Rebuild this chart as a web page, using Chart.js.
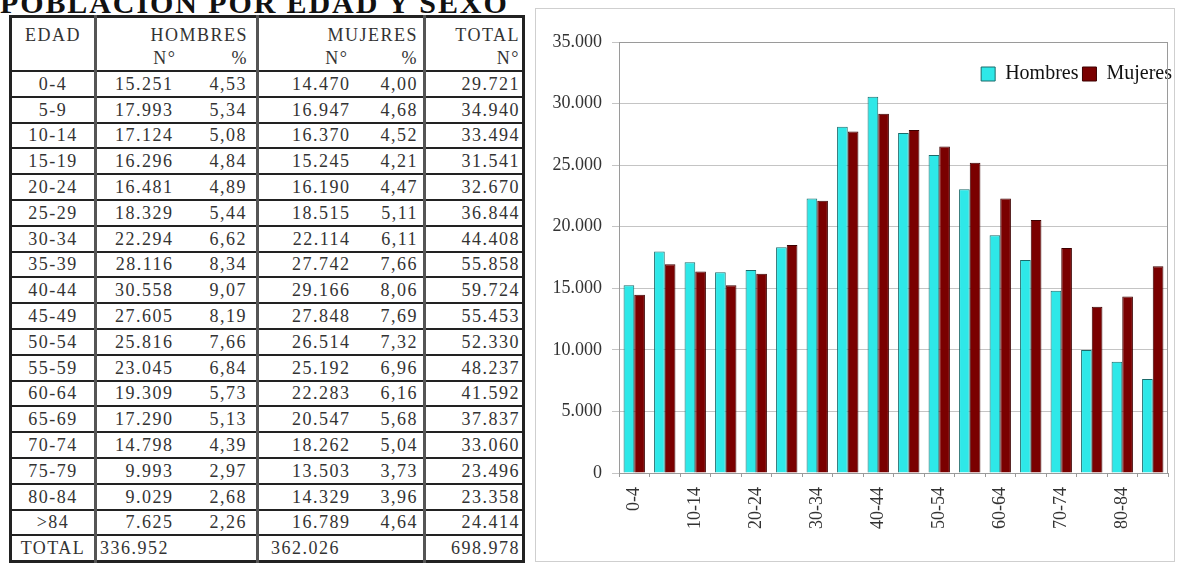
<!DOCTYPE html>
<html>
<head>
<meta charset="utf-8">
<script src="https://cdn.jsdelivr.net/npm/chart.js@4.4.0/dist/chart.umd.min.js"></script>
<style>
  body { margin: 0; width: 1178px; height: 564px; overflow: hidden; background: #fff; position: relative; }
  #titulo {
    position: absolute; left: 0; top: -12px; margin: 0;
    font: bold 30px "Liberation Serif", serif; letter-spacing: 1.9px; color: #111;
    line-height: 30px; white-space: nowrap;
  }
  #tabla {
    position: absolute; left: 9px; top: 15px; width: 513px;
    border-collapse: collapse; table-layout: fixed;
    font: 18px "Liberation Serif", serif; letter-spacing: 1.5px; color: #333;
    border: 3px solid #222;
  }
  #tabla td { padding: 0; height: 23.8px; line-height: 20px; white-space: nowrap; border-bottom: 2px solid #222; }
  #tabla tr.h1 td { border-bottom: none; height: 27px; vertical-align: bottom; }
  #tabla tr.h2 td { height: 25px; }
  #tabla .g { border-left: 3px solid #555; }
  #tabla .c { text-align: center; }
  #tabla .r { text-align: right; }
  #grafico {
    position: absolute; left: 535px; top: 8px; width: 638px; height: 552px;
    border: 1px solid #cfcfcf;
  }
</style>
</head>
<body>
<div id="titulo">POBLACION POR EDAD Y SEXO</div>
<table id="tabla">
  <colgroup>
    <col style="width:85px"><col style="width:95px"><col style="width:67px">
    <col style="width:105px"><col style="width:62px"><col style="width:99px">
  </colgroup>
  <tbody id="cuerpo">
    <tr class="h1">
      <td class="c">EDAD</td>
      <td class="g r" colspan="2" style="padding-right:8px">HOMBRES</td>
      <td class="g r" colspan="2" style="padding-right:5px">MUJERES</td>
      <td class="g r" style="padding-right:2px">TOTAL</td>
    </tr>
    <tr class="h2">
      <td></td>
      <td class="g r" style="padding-right:14px">N°</td>
      <td class="r" style="padding-right:8px">%</td>
      <td class="g r" style="padding-right:14px">N°</td>
      <td class="r" style="padding-right:5px">%</td>
      <td class="g r" style="padding-right:2px">N°</td>
    </tr>
  </tbody>
</table>
<div id="grafico"><canvas id="pob"></canvas></div>
<script>
// datos de la tabla
const edades = ["0-4","5-9","10-14","15-19","20-24","25-29","30-34","35-39","40-44","45-49","50-54","55-59","60-64","65-69","70-74","75-79","80-84",">84"];
const hombres = [15251,17993,17124,16296,16481,18329,22294,28116,30558,27605,25816,23045,19309,17290,14798,9993,9029,7625];
const pctHombres = ["4,53","5,34","5,08","4,84","4,89","5,44","6,62","8,34","9,07","8,19","7,66","6,84","5,73","5,13","4,39","2,97","2,68","2,26"];
const mujeres = [14470,16947,16370,15245,16190,18515,22114,27742,29166,27848,26514,25192,22283,20547,18262,13503,14329,16789];
const pctMujeres = ["4,00","4,68","4,52","4,21","4,47","5,11","6,11","7,66","8,06","7,69","7,32","6,96","6,16","5,68","5,04","3,73","3,96","4,64"];
const totales = [29721,34940,33494,31541,32670,36844,44408,55858,59724,55453,52330,48237,41592,37837,33060,23496,23358,24414];
const totalHombres = 336952;
const totalMujeres = 362026;
const totalGeneral = 698978;
const ticksY = [0,5000,10000,15000,20000,25000,30000,35000];

function miles(n) {
  return n.toString().replace(/\B(?=(\d{3})+(?!\d))/g, ".");
}

//Tabla//
const cuerpo = document.getElementById("cuerpo");
for (let i = 0; i < edades.length; i++) {
  const tr = document.createElement("tr");
  tr.innerHTML =
    '<td class="c">' + edades[i].replace(">", "&gt;") + '</td>' +
    '<td class="g r" style="padding-right:17px">' + miles(hombres[i]) + '</td>' +
    '<td class="r" style="padding-right:9px">' + pctHombres[i] + '</td>' +
    '<td class="g r" style="padding-right:12px">' + miles(mujeres[i]) + '</td>' +
    '<td class="r" style="padding-right:5px">' + pctMujeres[i] + '</td>' +
    '<td class="g r" style="padding-right:2px">' + miles(totales[i]) + '</td>';
  cuerpo.appendChild(tr);
}
const trTotal = document.createElement("tr");
trTotal.innerHTML =
  '<td class="c" style="border-bottom:none">TOTAL</td>' +
  '<td class="g" colspan="2" style="padding-left:3px;border-bottom:none">' + miles(totalHombres) + '</td>' +
  '<td class="g" colspan="2" style="padding-left:12px;border-bottom:none">' + miles(totalMujeres) + '</td>' +
  '<td class="g r" style="padding-right:2px;border-bottom:none">' + miles(totalGeneral) + '</td>';
cuerpo.appendChild(trTotal);
//Akhir Tabla//

//Grafico//
// leyenda dentro del area: no ocupa alto y se baja un poco
const leyendaDentro = {
  id: "leyendaDentro",
  beforeInit(chart) {
    const fitOrig = chart.legend.fit;
    chart.legend.fit = function () { fitOrig.call(this); this.height = 0; };
  },
  afterLayout(chart) {
    const l = chart.legend;
    l.top += 18;
    l.height = 40;
    l.bottom = l.top + 40;
    l.right += 8;
  }
};
const marco = {
  id: "marco",
  beforeDatasetsDraw(chart) {
    const a = chart.chartArea;
    const ctx = chart.ctx;
    ctx.save();
    ctx.strokeStyle = "#9a9a9a";
    ctx.lineWidth = 1;
    ctx.strokeRect(a.left + 0.5, a.top + 0.5, a.right - a.left - 1, a.bottom - a.top);
    ctx.restore();
  }
};

const data = {
  labels: edades,
  datasets: [
    {
      label: "Hombres",
      data: hombres,
      backgroundColor: "#2ee8e8",
      borderColor: "#1b6b6b",
      borderWidth: 1,
      categoryPercentage: 0.7,
      barPercentage: 1.0
    },
    {
      label: "Mujeres",
      data: mujeres,
      backgroundColor: "#7a0000",
      borderColor: "#3d0000",
      borderWidth: 1,
      categoryPercentage: 0.7,
      barPercentage: 1.0
    }
  ]
};

const config = {
  type: "bar",
  data: data,
  options: {
    responsive: true,
    maintainAspectRatio: false,
    animation: false,
    layout: { padding: { top: 33, right: 6, left: 0, bottom: 0 } },
    scales: {
      x: {
        grid: { display: true, drawOnChartArea: false, offset: true, tickLength: 4, color: "#9a9a9a" },
        border: { color: "#9a9a9a" },
        ticks: {
          autoSkip: false,
          minRotation: 90,
          maxRotation: 90,
          padding: 10,
          color: "#333",
          font: { family: "Liberation Serif", size: 18 },
          callback: function (v, i) { return i % 2 === 0 ? edades[i] : ""; }
        },
        afterFit: function (scale) {
          scale.height = 88;
          scale.paddingLeft = 0;
          scale.paddingRight = 0;
        }
      },
      y: {
        min: 0,
        max: 35000,
        afterBuildTicks: function (scale) { scale.ticks = ticksY.map((v) => ({ value: v })); },
        grid: { color: "#c4c4c4", tickLength: 7 },
        border: { color: "#9a9a9a" },
        ticks: {
          padding: 10,
          color: "#333",
          font: { family: "Liberation Serif", size: 18 },
          callback: function (v) { return miles(v); }
        },
        afterFit: function (scale) { scale.width = 83; }
      }
    },
    plugins: {
      legend: {
        position: "top",
        align: "end",
        labels: {
          color: "#111",
          boxWidth: 14,
          boxHeight: 14,
          padding: 4,
          font: { family: "Liberation Serif", size: 20 }
        }
      },
      tooltip: { enabled: false }
    }
  },
  plugins: [leyendaDentro, marco]
};
const graficoPoblacion = new Chart(document.getElementById("pob").getContext("2d"), config);
//Akhir Grafico//
</script>
</body>
</html>
